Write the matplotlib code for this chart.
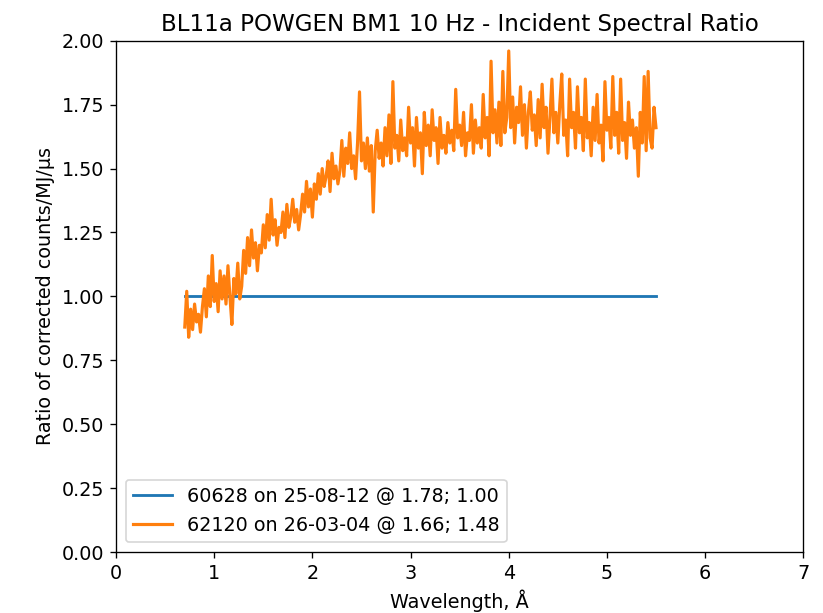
import numpy as np
import matplotlib
matplotlib.use("Agg")
import matplotlib.pyplot as plt

# reference run, flat ratio of 1
ref_wl = [0.70, 5.50]
ref_ratio = [1.00, 1.00]

# new run, ratio every 0.02 A from 0.70 to 5.50
new_ratio = [
    0.88, 1.02, 0.84, 0.95, 0.87, 0.97, 0.90, 0.93, 0.86, 0.96,
    1.03, 0.92, 1.08, 0.96, 1.16, 0.98, 1.05, 0.94, 1.10, 0.99,
    1.08, 0.97, 1.12, 1.00, 0.89, 1.07, 1.01, 1.13, 0.99, 1.04,
    1.18, 1.09, 1.23, 1.12, 1.26, 1.15, 1.21, 1.10, 1.20, 1.17,
    1.28, 1.19, 1.32, 1.22, 1.38, 1.24, 1.30, 1.20, 1.27, 1.25,
    1.33, 1.23, 1.36, 1.27, 1.31, 1.38, 1.29, 1.34, 1.26, 1.32,
    1.40, 1.33, 1.45, 1.35, 1.42, 1.31, 1.44, 1.38, 1.48, 1.40,
    1.50, 1.43, 1.47, 1.53, 1.41, 1.56, 1.46, 1.51, 1.44, 1.49,
    1.61, 1.47, 1.58, 1.52, 1.64, 1.50, 1.55, 1.46, 1.60, 1.80,
    1.53, 1.60, 1.50, 1.62, 1.49, 1.59, 1.33, 1.57, 1.65, 1.54,
    1.60, 1.51, 1.66, 1.55, 1.71, 1.52, 1.84, 1.58, 1.63, 1.53,
    1.69, 1.57, 1.62, 1.55, 1.74, 1.60, 1.66, 1.51, 1.70, 1.58,
    1.64, 1.48, 1.72, 1.59, 1.67, 1.55, 1.73, 1.61, 1.66, 1.52,
    1.70, 1.58, 1.63, 1.56, 1.68, 1.60, 1.65, 1.57, 1.81, 1.62,
    1.67, 1.59, 1.72, 1.55, 1.64, 1.61, 1.75, 1.56, 1.69, 1.60,
    1.66, 1.58, 1.79, 1.62, 1.70, 1.55, 1.92, 1.64, 1.73, 1.60,
    1.76, 1.59, 1.88, 1.64, 1.70, 1.96, 1.66, 1.78, 1.60, 1.74,
    1.68, 1.82, 1.63, 1.75, 1.58, 1.72, 1.80, 1.65, 1.71, 1.59,
    1.77, 1.62, 1.83, 1.66, 1.74, 1.56, 1.70, 1.85, 1.64, 1.72,
    1.60, 1.75, 1.87, 1.63, 1.69, 1.55, 1.85, 1.66, 1.72, 1.58,
    1.82, 1.64, 1.70, 1.57, 1.85, 1.62, 1.68, 1.55, 1.74, 1.61,
    1.79, 1.60, 1.67, 1.53, 1.84, 1.65, 1.70, 1.58, 1.86, 1.63,
    1.72, 1.56, 1.85, 1.61, 1.68, 1.54, 1.76, 1.63, 1.69, 1.58,
    1.66, 1.47, 1.72, 1.60, 1.86, 1.57, 1.88, 1.62, 1.58, 1.74,
    1.66,
]
new_wl = np.linspace(0.70, 5.50, len(new_ratio))

labels = ["60628 on 25-08-12 @ 1.78; 1.00",
          "62120 on 26-03-04 @ 1.66; 1.48"]

plt.rcParams["font.size"] = 11.5

fig = plt.figure(figsize=(823/120, 613/120), dpi=120)
ax = fig.add_axes([0.141, 0.0995, 0.835, 0.834])
ax.plot(ref_wl, ref_ratio, lw=1.7, label=labels[0])
ax.plot(new_wl, new_ratio, lw=1.9, label=labels[1])
ax.set_xlim(0, 7)
ax.set_ylim(0, 2)
ax.set_yticks(np.arange(0, 2.01, 0.25))
ax.set_title("BL11a POWGEN BM1 10 Hz - Incident Spectral Ratio")
ax.set_xlabel("Wavelength, Å")
ax.set_ylabel("Ratio of corrected counts/MJ/µs")
ax.legend(loc="lower left")

fig.savefig("out.png", dpi=120)
